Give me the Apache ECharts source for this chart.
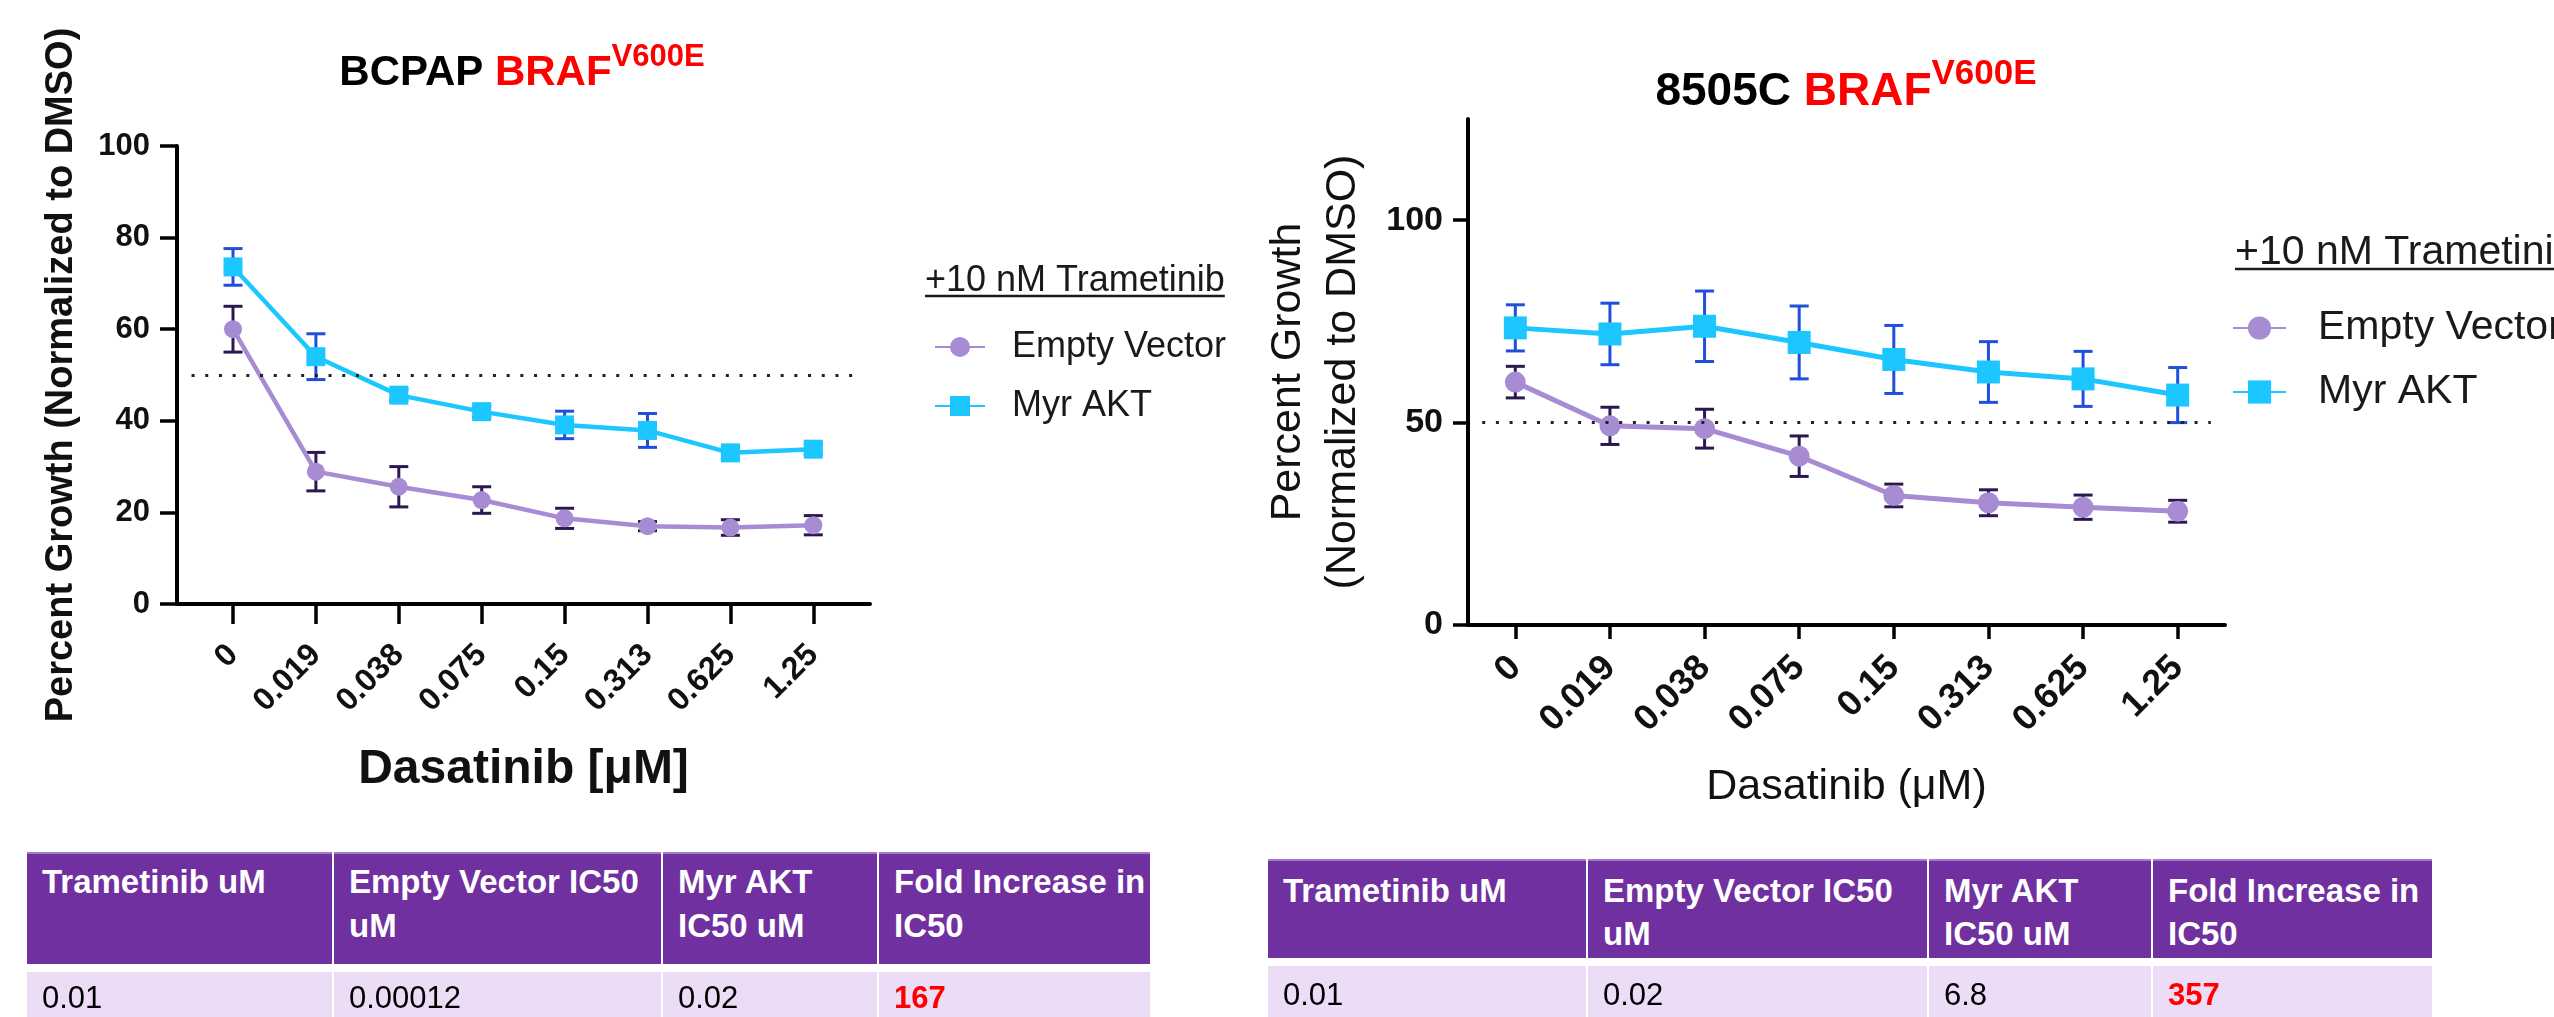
<!DOCTYPE html>
<html>
<head>
<meta charset="utf-8">
<script src="https://cdn.jsdelivr.net/npm/echarts@6/dist/echarts.min.js"></script>
<style>
html,body{margin:0;padding:0;background:#fff;overflow:hidden;width:2554px;height:1017px;}
#chart{position:absolute;left:0;top:0;width:2554px;height:1017px;}
.cell{position:absolute;box-sizing:border-box;font-family:'Liberation Sans',Arial,sans-serif;white-space:pre;overflow:hidden;padding-left:15px;}
.hd{background:#7030a0;color:#fff;font-weight:bold;font-size:33px;}
.bd{background:#ecdcf6;color:#000;font-size:31px;}
.red{color:#ff0000;font-weight:bold;}
</style>
</head>
<body>
<div id="chart"></div>
<script>
// ---------------- data ----------------
const doses = ['0', '0.019', '0.038', '0.075', '0.15', '0.313', '0.625', '1.25'];
const seriesNames = ['Empty Vector', 'Myr AKT'];

const bcpapEV     = [60.0, 28.9, 25.6, 22.7, 18.7, 17.0, 16.7, 17.2];
const bcpapEVErr  = [5.0, 4.2, 4.4, 2.9, 2.2, 1.0, 1.7, 2.1];
const bcpapAKT    = [73.6, 54.0, 45.6, 42.0, 39.1, 37.9, 33.0, 33.8];
const bcpapAKTErr = [4.0, 5.0, 1.2, 1.2, 3.0, 3.7, 1.2, 1.2];

const c8505EV     = [60.0, 49.2, 48.5, 41.7, 32.0, 30.2, 29.1, 28.1];
const c8505EVErr  = [3.9, 4.6, 4.8, 5.0, 2.8, 3.2, 3.0, 2.7];
const c8505AKT    = [73.4, 71.9, 73.8, 69.8, 65.6, 62.5, 60.8, 56.8];
const c8505AKTErr = [5.7, 7.6, 8.7, 9.0, 8.4, 7.5, 6.8, 6.8];

const bcpapYTicks = [0, 20, 40, 60, 80, 100];
const c8505YTicks = [0, 50, 100];
const ic50Level = 50;

const tableHeaders   = ['Trametinib uM', 'Empty Vector IC50\nuM', 'Myr AKT\nIC50 uM', 'Fold Increase in\nIC50'];
const bcpapTableRow  = ['0.01', '0.00012', '0.02', '167'];
const c8505TableRow  = ['0.01', '0.02', '6.8', '357'];

// ---------------- styles ----------------
const FONT = "'Liberation Sans', Arial, Helvetica, sans-serif";
const INK = '#111';
const COL = { cyan: '#1cc6ff', cyanErr: '#1f4fdb', purple: '#a78bd3', purpleErr: '#2b1850' };

const panels = [
  {
    grid: { left: 177, top: 146, width: 693, height: 458 },
    xMin: -0.6755, xMax: 7.684, yMax: 100, yTicks: bcpapYTicks,
    ev: bcpapEV, evErr: bcpapEVErr, akt: bcpapAKT, aktErr: bcpapAKTErr,
    yLabelSize: 31, xLabelSize: 32, xLabelWeight: 'bold', xLabelMargin: 46, yLabelMargin: 27,
    tickLenX: 20, tickLenY: 17,
    yName: 'Percent Growth (Normalized to DMSO)', yNameSize: 38, yNameWeight: 'bold', yNameGap: 95, yNameLH: 40,
    xName: 'Dasatinib [\u03bcM]', xNameSize: 48, xNameWeight: 'bold', xNameGap: 142,
    symEV: 18, symAKT: 19, capW: 19, lineW: 4.5,
    ref: [-0.5, 7.5]
  },
  {
    grid: { left: 1468, top: 119, width: 757, height: 506 },
    xMin: -0.5, xMax: 7.5, yMax: 125, yTicks: c8505YTicks,
    ev: c8505EV, evErr: c8505EVErr, akt: c8505AKT, aktErr: c8505AKTErr,
    yLabelSize: 34, xLabelSize: 36, xLabelWeight: 'bold', xLabelMargin: 37, yLabelMargin: 25,
    tickLenX: 14, tickLenY: 15,
    yName: 'Percent Growth\n(Normalized to DMSO)', yNameSize: 43, yNameWeight: 'normal', yNameGap: 97.5, yNameLH: 55,
    xName: 'Dasatinib (\u03bcM)', xNameSize: 43, xNameWeight: 'normal', xNameGap: 141,
    symEV: 21, symAKT: 23, capW: 19, lineW: 5,
    ref: [-0.35, 7.35]
  }
];

function errSeries(idx, means, errs, color, capW) {
  return {
    type: 'custom', xAxisIndex: idx, yAxisIndex: idx, z: 1, silent: true,
    data: means.map((m, i) => [i, m - errs[i], m + errs[i]]),
    renderItem: function (params, api) {
      const x = api.value(0);
      const lo = api.coord([x, api.value(1)]);
      const hi = api.coord([x, api.value(2)]);
      const st = { stroke: color, lineWidth: 3 };
      const w = capW / 2;
      return {
        type: 'group',
        children: [
          { type: 'line', shape: { x1: lo[0], y1: lo[1], x2: hi[0], y2: hi[1] }, style: st },
          { type: 'line', shape: { x1: lo[0] - w, y1: lo[1], x2: lo[0] + w, y2: lo[1] }, style: st },
          { type: 'line', shape: { x1: hi[0] - w, y1: hi[1], x2: hi[0] + w, y2: hi[1] }, style: st }
        ]
      };
    }
  };
}

const grids = [], xAxes = [], yAxes = [], series = [];
panels.forEach((p, idx) => {
  grids.push(Object.assign({ containLabel: false }, p.grid));
  const xIdx = doses.map((d, i) => i);
  xAxes.push({
    type: 'value', gridIndex: idx, min: p.xMin, max: p.xMax,
    splitLine: { show: false },
    axisLine: { show: true, onZero: false, lineStyle: { color: '#000', width: 4 } },
    axisTick: { show: true, customValues: xIdx, length: p.tickLenX, lineStyle: { color: '#000', width: 3.5 } },
    axisLabel: {
      customValues: xIdx, rotate: 45, margin: p.xLabelMargin,
      fontSize: p.xLabelSize, fontWeight: p.xLabelWeight, fontFamily: FONT, color: INK,
      formatter: v => doses[Math.round(v)]
    },
    name: p.xName, nameLocation: 'middle', nameGap: p.xNameGap,
    nameTextStyle: { fontSize: p.xNameSize, fontWeight: p.xNameWeight, fontFamily: FONT, color: INK }
  });
  yAxes.push({
    type: 'value', gridIndex: idx, min: 0, max: p.yMax,
    splitLine: { show: false },
    axisLine: { show: true, onZero: false, lineStyle: { color: '#000', width: 4 } },
    axisTick: { show: true, customValues: p.yTicks, length: p.tickLenY, lineStyle: { color: '#000', width: 3.5 } },
    axisLabel: {
      customValues: p.yTicks, margin: p.yLabelMargin,
      fontSize: p.yLabelSize, fontWeight: 'bold', fontFamily: FONT, color: INK
    },
    name: p.yName, nameLocation: 'middle', nameGap: p.yNameGap,
    nameTextStyle: { fontSize: p.yNameSize, fontWeight: p.yNameWeight, fontFamily: FONT, color: INK, lineHeight: p.yNameLH }
  });
  series.push(errSeries(idx, p.ev, p.evErr, COL.purpleErr, p.capW));
  series.push(errSeries(idx, p.akt, p.aktErr, COL.cyanErr, p.capW));
  series.push({
    name: seriesNames[0], type: 'line', xAxisIndex: idx, yAxisIndex: idx, z: 3,
    data: p.ev.map((v, i) => [i, v]),
    symbol: 'circle', symbolSize: p.symEV,
    lineStyle: { color: COL.purple, width: p.lineW },
    itemStyle: { color: COL.purple },
    emphasis: { disabled: true },
    markLine: {
      silent: true, symbol: ['none', 'none'], label: { show: false },
      lineStyle: { color: '#222', width: 3, type: [3, 10.7] },
      emphasis: { disabled: true },
      data: [[{ coord: [p.ref[0], ic50Level] }, { coord: [p.ref[1], ic50Level] }]]
    }
  });
  series.push({
    name: seriesNames[1], type: 'line', xAxisIndex: idx, yAxisIndex: idx, z: 4,
    data: p.akt.map((v, i) => [i, v]),
    symbol: 'rect', symbolSize: p.symAKT,
    lineStyle: { color: COL.cyan, width: p.lineW },
    itemStyle: { color: COL.cyan },
    emphasis: { disabled: true }
  });
});

const legendText = (size, lh, padL) => ({ fontSize: size, fontFamily: FONT, color: '#1a1a1a', lineHeight: lh, padding: [0, 0, 0, padL] });
const legends = [
  { data: seriesNames, orient: 'vertical', left: 934, top: 327, padding: 0, itemWidth: 50, itemHeight: 25, itemGap: 19,
    selectedMode: false, textStyle: legendText(36, 40, 22) },
  { data: seriesNames, orient: 'vertical', left: 2232, top: 306, padding: 0, itemWidth: 53, itemHeight: 29, itemGap: 20,
    selectedMode: false, textStyle: legendText(41, 44, 27) }
];

// measure text to size underline
const mctx = document.createElement('canvas').getContext('2d');
function textW(str, size, weight) { mctx.font = (weight || 'normal') + ' ' + size + 'px ' + FONT; return mctx.measureText(str).width; }

const heading = '+10 nM Trametinib';
const headings = [
  { x: 925, base: 292, size: 36 },
  { x: 2235, base: 265, size: 41 }
];
const graphics = [];
headings.forEach(h => {
  graphics.push({ type: 'text', silent: true, style: { text: heading, x: h.x, y: h.base - 0.31 * h.size, verticalAlign: 'middle', align: 'left', fontSize: h.size, fontFamily: FONT, fill: '#1a1a1a' } });
  const w = textW(heading, h.size);
  graphics.push({ type: 'line', silent: true, shape: { x1: h.x, y1: h.base + 4, x2: h.x + w, y2: h.base + 4 }, style: { stroke: '#1a1a1a', lineWidth: 2.5 } });
});

function titleRich(main, sub) {
  return {
    a: { fontSize: main.size, fontWeight: 'bold', fill: '#000', fontFamily: FONT, lineHeight: main.lh },
    b: { fontSize: main.size, fontWeight: 'bold', fill: '#ff0000', fontFamily: FONT, lineHeight: main.lh },
    c: { fontSize: sub, fontWeight: 'bold', fill: '#ff0000', fontFamily: FONT, lineHeight: sub, verticalAlign: 'top' }
  };
}
graphics.push({ type: 'text', silent: true, style: { text: '{a|BCPAP }{b|BRAF}{c|V600E}', x: 522, y: 42, align: 'center', verticalAlign: 'top', rich: titleRich({ size: 42, lh: 62 }, 31) } });
graphics.push({ type: 'text', silent: true, style: { text: '{a|8505C }{b|BRAF}{c|V600E}', x: 1846, y: 57, align: 'center', verticalAlign: 'top', rich: titleRich({ size: 46, lh: 70 }, 35) } });

const chart = echarts.init(document.getElementById('chart'), null, { renderer: 'canvas' });
chart.setOption({
  animation: false,
  backgroundColor: '#fff',
  textStyle: { fontFamily: FONT },
  grid: grids, xAxis: xAxes, yAxis: yAxes, series: series,
  legend: legends,
  graphic: graphics
});

// ---------------- tables (HTML) ----------------
function buildTable(t, row) {
  const body = document.body;
  for (let i = 0; i < 4; i++) {
    const left = t.cols[i], width = t.cols[i + 1] - t.cols[i] - (i < 3 ? 2 : 0);
    const h = document.createElement('div');
    h.className = 'cell hd';
    h.style.cssText += `left:${left}px;top:${t.hTop}px;width:${width}px;height:${t.hH}px;padding-top:${t.hPad}px;line-height:${t.hLH}px;border-top:2px solid #9f7cc4;`;
    h.textContent = tableHeaders[i];
    body.appendChild(h);
    const b = document.createElement('div');
    b.className = 'cell bd';
    b.style.cssText += `left:${left}px;top:${t.bTop}px;width:${width}px;height:${t.bH}px;padding-top:${t.bPad}px;line-height:40px;`;
    const span = document.createElement('span');
    if (i === 3) span.className = 'red';
    span.textContent = row[i];
    b.appendChild(span);
    body.appendChild(b);
  }
}
buildTable({ cols: [27, 334, 663, 879, 1150], hTop: 852, hH: 112, hPad: 6, hLH: 44, bTop: 972, bH: 60, bPad: 6 }, bcpapTableRow);
buildTable({ cols: [1268, 1588, 1929, 2153, 2432], hTop: 859, hH: 99, hPad: 8, hLH: 43, bTop: 966, bH: 60, bPad: 9 }, c8505TableRow);
</script>
</body>
</html>
